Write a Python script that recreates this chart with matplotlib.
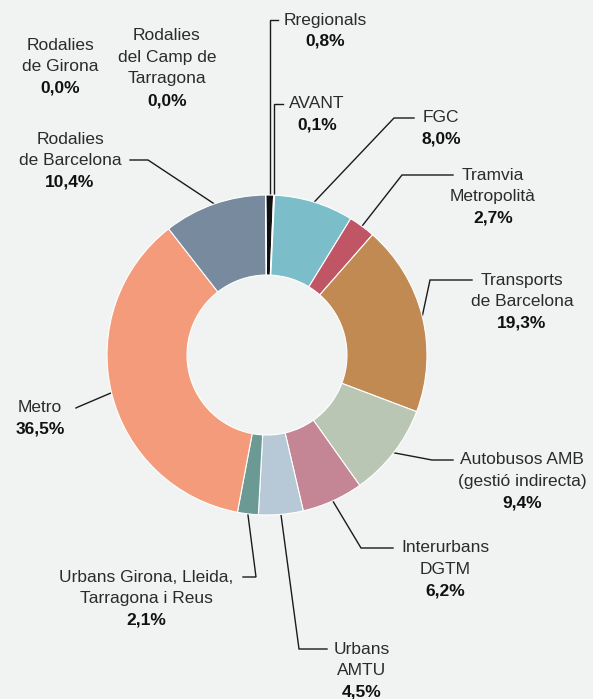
import numpy as np
import matplotlib.pyplot as plt

# dades (percentatge de viatges per operador)
operadors = ['Rregionals', 'AVANT', 'FGC', 'Tramvia\nMetropolità',
             'Transports\nde Barcelona', 'Autobusos AMB\n(gestió indirecta)',
             'Interurbans\nDGTM', 'Urbans\nAMTU',
             'Urbans Girona, Lleida,\nTarragona i Reus', 'Metro',
             'Rodalies\nde Barcelona', 'Rodalies\ndel Camp de\nTarragona',
             'Rodalies\nde Girona']
percentatges = [0.8, 0.1, 8.0, 2.7, 19.3, 9.4, 6.2, 4.5, 2.1, 36.5, 10.4, 0.0, 0.0]
colors = ['#111111', '#2a2a2a', '#7bbec9', '#c05566', '#c08a52', '#b9c6b3',
          '#c48594', '#b7c9d7', '#6b9994', '#f39b7b', '#788a9d', '#9aa6b2', '#9aa6b2']

W, H = 593, 699
bg = '#f1f3f2'
fig = plt.figure(figsize=(W / 100, H / 100), dpi=100, facecolor=bg)
ax = fig.add_axes([0, 0, 1, 1])
ax.set_facecolor(bg)

def P(x, y):
    # coordenades en píxels (origen a dalt a l'esquerra)
    return x, H - y

cx, cy = P(267, 355)
R = 160

wedges, _ = ax.pie(percentatges, colors=colors, startangle=90.5, counterclock=False,
                   center=(cx, cy), radius=R,
                   wedgeprops=dict(width=R * 0.5, edgecolor='white', linewidth=0.8))

ax.set_xlim(0, W)
ax.set_ylim(0, H)
ax.set_aspect('equal')
ax.axis('off')

font = 'Liberation Sans'
fs = 12.5
lh = 21.5  # alçada de línia en píxels

# posició del text (centre, primera línia) i inici/colze de la línia guia
layout = {
    'Rregionals': (325, 20, [(278, 20), 'v']),
    'AVANT': (317, 104, [(283, 104), 'v']),
    'FGC': (441, 118, [(414, 118), (394, 118)]),
    'Tramvia\nMetropolità': (493, 175, [(453, 175), (402, 175)]),
    'Transports\nde Barcelona': (522, 280, [(472, 280), (430, 280)]),
    'Autobusos AMB\n(gestió indirecta)': (522, 460, [(453, 460), (432, 460)]),
    'Interurbans\nDGTM': (445, 548, [(393, 548), (361, 548)]),
    'Urbans\nAMTU': (362, 649, [(327, 649), (299, 649)]),
    'Urbans Girona, Lleida,\nTarragona i Reus': (146, 577, [(243, 577), (256, 577)]),
    'Metro': (40, 408, [(76, 408), (78, 407)]),
    'Rodalies\nde Barcelona': (70, 139, [(130, 160), (148, 160)]),
    'Rodalies\ndel Camp de\nTarragona': (167, 36, None),
    'Rodalies\nde Girona': (60, 45, None),
}

for w, nom, pct in zip(wedges, operadors, percentatges):
    tx, ty, guia = layout[nom]
    linies = nom.split('\n')
    for i, linia in enumerate(linies):
        ax.text(*P(tx, ty + i * lh), linia, ha='center', va='center',
                fontsize=fs, family=font, color='#2b2b2b')
    ax.text(*P(tx, ty + len(linies) * lh), f'{pct:.1f}%'.replace('.', ','),
            ha='center', va='center', fontsize=fs, family=font,
            fontweight='bold', color='#111111')

    if guia is None:
        continue
    ang = np.deg2rad((w.theta1 + w.theta2) / 2)
    ex, ey = cx + R * np.cos(ang), cy + R * np.sin(ang)
    (x0, y0), colze = guia
    x0, y0 = P(x0, y0)
    if colze == 'v':
        xs = [x0, ex, ex]
        ys = [y0, y0, ey]
    else:
        x1, y1 = P(*colze)
        xs = [x0, x1, ex]
        ys = [y0, y1, ey]
    ax.plot(xs, ys, color='#1a1a1a', lw=1.0, solid_joinstyle='miter', zorder=0.5)

fig.savefig('out.png', dpi=100, facecolor=bg)
